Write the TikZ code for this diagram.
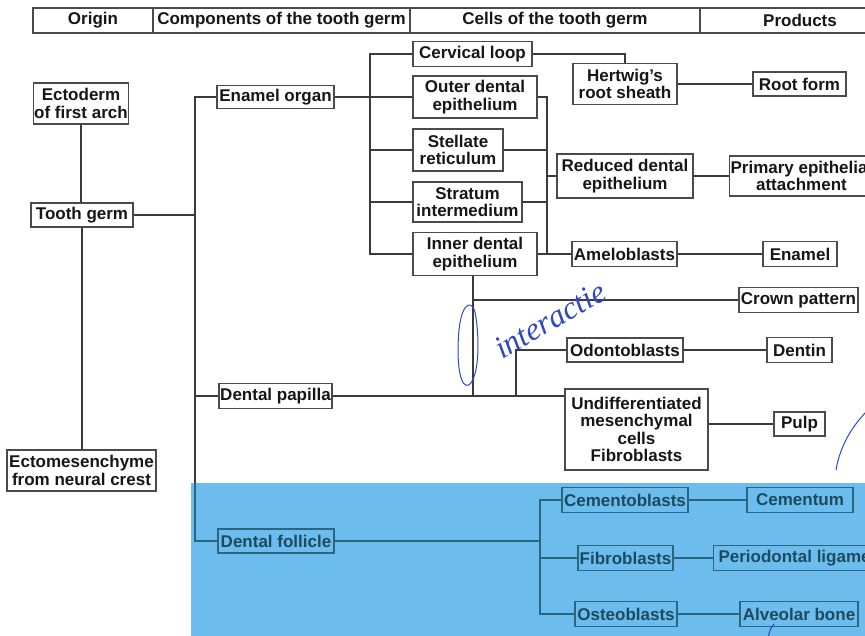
\documentclass[tikz,border=0pt]{standalone}
\usepackage{fontspec}
\setmainfont{Liberation Sans}
\newfontfamily\handfont{Liberation Serif}
\definecolor{linec}{HTML}{3A3A3A}
\definecolor{boxc}{HTML}{4A4A4A}
\definecolor{txtc}{HTML}{161616}
\definecolor{hlblue}{HTML}{6CBDEE}
\definecolor{tealdark}{HTML}{1C4A5E}
\definecolor{teall}{HTML}{2A6680}
\definecolor{penblue}{HTML}{2F47C4}
\tikzset{
  box/.style={draw=boxc, line width=1.2pt, text=txtc, align=center, inner sep=1pt,
    font=\bfseries\fontsize{17}{17.5}\selectfont},
  fbox/.style={box, draw=teall, text=tealdark},
  hdr/.style={draw=boxc, line width=1.2pt, text=txtc, inner sep=0pt, minimum height=25pt,
    font=\bfseries\fontsize{17}{17.5}\selectfont},
  conn/.style={draw=linec, line width=2pt},
  fconn/.style={draw=teall, line width=2pt},
  pen/.style={draw=penblue, line width=1pt, line cap=round}
}
\begin{document}
\begin{tikzpicture}[x=1pt,y=-1pt]
\useasboundingbox (0,0) rectangle (865,636);
\clip (0,0) rectangle (865,636);
% highlighted region
\fill[hlblue] (191,483) rectangle (880,650);
% header
\node[hdr, minimum width=120pt] (h1) at (93,20.5) {Origin};
\node[hdr, minimum width=257pt] (h2) at (281.5,20.5) {Components of the tooth germ};
\node[hdr, minimum width=290pt] (h3) at (555,20.5) {Cells of the tooth germ};
\node[hdr, minimum width=200pt] (h4) at (800,20.5) {Products};
% origin column
\node[box, minimum width=95pt, minimum height=41pt] (ecto) at (81,103.5) {Ectoderm\\of first arch};
\node[box, minimum width=102pt, minimum height=24pt] (tg) at (82,215) {Tooth germ};
\node[box, minimum width=149pt, minimum height=41pt] (ectom) at (81.5,470.5) {Ectomesenchyme\\from neural crest};
% components
\node[box, minimum width=117pt, minimum height=23pt] (eo) at (275.5,97) {Enamel organ};
\node[box, minimum width=113pt, minimum height=25pt] (dp) at (275.5,396) {Dental papilla};
\node[fbox, minimum width=116pt, minimum height=24pt] (df) at (276,541) {Dental follicle};
% cells
\node[box, minimum width=119pt, minimum height=25pt] (cl) at (472.5,54) {Cervical loop};
\node[box, minimum width=124pt, minimum height=42pt] (ode) at (475,97) {Outer dental\\epithelium};
\node[box, minimum width=90pt, minimum height=42pt] (sr) at (458,150) {Stellate\\reticulum};
\node[box, minimum width=109pt, minimum height=40pt] (si) at (467.5,202) {Stratum\\intermedium};
\node[box, minimum width=124pt, minimum height=43pt] (ide) at (475,254) {Inner dental\\epithelium};
\node[box, minimum width=104pt, minimum height=41pt] (hrs) at (625,84) {Hertwig's\\root sheath};
\node[box, minimum width=136pt, minimum height=44pt] (rde) at (625,176) {Reduced dental\\epithelium};
\node[box, minimum width=105pt, minimum height=25pt] (am) at (624.5,254) {Ameloblasts};
\node[box, minimum width=116pt, minimum height=24pt] (od) at (625,350) {Odontoblasts};
\node[box, minimum width=143pt, minimum height=81pt] (um) at (636.5,429.5) {Undifferentiated\\mesenchymal\\cells\\Fibroblasts};
\node[fbox, minimum width=126pt, minimum height=25pt] (ce) at (625,500) {Cementoblasts};
\node[fbox, minimum width=95pt, minimum height=25pt] (fb) at (625.5,558) {Fibroblasts};
\node[fbox, minimum width=102pt, minimum height=25pt] (ob) at (626,614) {Osteoblasts};
% products
\node[box, minimum width=93pt, minimum height=24pt] (rf) at (799.5,84) {Root form};
\node[box, anchor=west, minimum width=142pt, minimum height=40pt] (pea) at (729,176) {Primary epithelial\\attachment};
\node[box, minimum width=74pt, minimum height=25pt] (en) at (800,254) {Enamel};
\node[box, minimum width=119pt, minimum height=25pt] (cp) at (798.5,300) {Crown pattern};
\node[box, minimum width=65pt, minimum height=25pt] (de) at (799.5,350) {Dentin};
\node[box, minimum width=51pt, minimum height=24pt] (pu) at (799.5,424) {Pulp};
\node[fbox, minimum width=106pt, minimum height=25pt] (ceum) at (800,500) {Cementum};
\node[fbox, anchor=west, minimum width=178pt, minimum height=25pt] (pl) at (713,558) {Periodontal ligament};
\node[fbox, minimum width=118pt, minimum height=25pt] (ab) at (799,614) {Alveolar bone};
% bus coordinates
\coordinate (busA) at (195,0);
\coordinate (busB) at (370,0);
\coordinate (busC) at (547,0);
\coordinate (busD) at (473,0);
\coordinate (busE) at (516,0);
\coordinate (busF) at (540,0);
\coordinate (hlTop) at (0,483);
% origin connectors
\draw[conn] (ecto.south) -- (ecto.south |- tg.north);
\draw[conn] (tg.south) -- (tg.south |- ectom.north);
% components bus
\draw[conn] (eo.west) -- (eo.west -| busA) -- (busA |- hlTop);
\draw[fconn] (busA |- hlTop) -- (df.west -| busA) -- (df.west);
\draw[conn] (tg.east) -- (tg.east -| busA);
\draw[conn] (dp.west) -- (dp.west -| busA);
% enamel organ bus
\draw[conn] (eo.east) -- (ode.west);
\draw[conn] (cl.west) -- (cl.west -| busB) -- (ide.west -| busB) -- (ide.west);
\draw[conn] (sr.west) -- (sr.west -| busB);
\draw[conn] (si.west) -- (si.west -| busB);
% cervical loop to Hertwig
\draw[conn] (cl.east) -| (hrs.north);
\draw[conn] (hrs.east) -- (hrs.east -| rf.west);
% reduced dental epithelium bus
\draw[conn] (ode.east) -- (ode.east -| busC) -- (ide.east -| busC);
\draw[conn] (sr.east) -- (sr.east -| busC);
\draw[conn] (si.east) -- (si.east -| busC);
\draw[conn] (ide.east) -- (am.west);
\draw[conn] (busC |- rde.west) -- (rde.west);
\draw[conn] (rde.east) -- (pea.west);
\draw[conn] (am.east) -- (en.west);
% papilla interaction
\draw[conn] (ide.south -| busD) -- (busD |- dp.east);
\draw[conn] (busD |- cp.west) -- (cp.west);
\draw[conn] (dp.east) -- (dp.east -| um.west);
\draw[conn] (busE |- dp.east) |- (od.west);
\draw[conn] (od.east) -- (de.west);
\draw[conn] (um.east |- pu.west) -- (pu.west);
% follicle
\draw[fconn] (df.east) -- (df.east -| busF);
\draw[fconn] (ce.west) -- (ce.west -| busF) -- (ob.west -| busF) -- (ob.west);
\draw[fconn] (fb.west) -- (fb.west -| busF);
\draw[fconn] (ce.east) -- (ceum.west);
\draw[fconn] (fb.east) -- (pl.west);
\draw[fconn] (ob.east) -- (ab.west);
% handwritten annotations
\node[text=penblue, rotate=30, font=\handfont\itshape\fontsize{32}{32}\selectfont, inner sep=0pt] (hw) at (550,320) {interactie};
\draw[pen] (476,318) .. controls (474,298) and (462,300) .. (459,330)
  .. controls (456,362) and (460,392) .. (470,384)
  .. controls (478,376) and (480,345) .. (476,318);
\draw[pen] (836,470) .. controls (840,446) and (852,426) .. (868,410);
\draw[pen] (768,638) .. controls (769,632) and (771,627) .. (774,624);
\end{tikzpicture}
\end{document}
